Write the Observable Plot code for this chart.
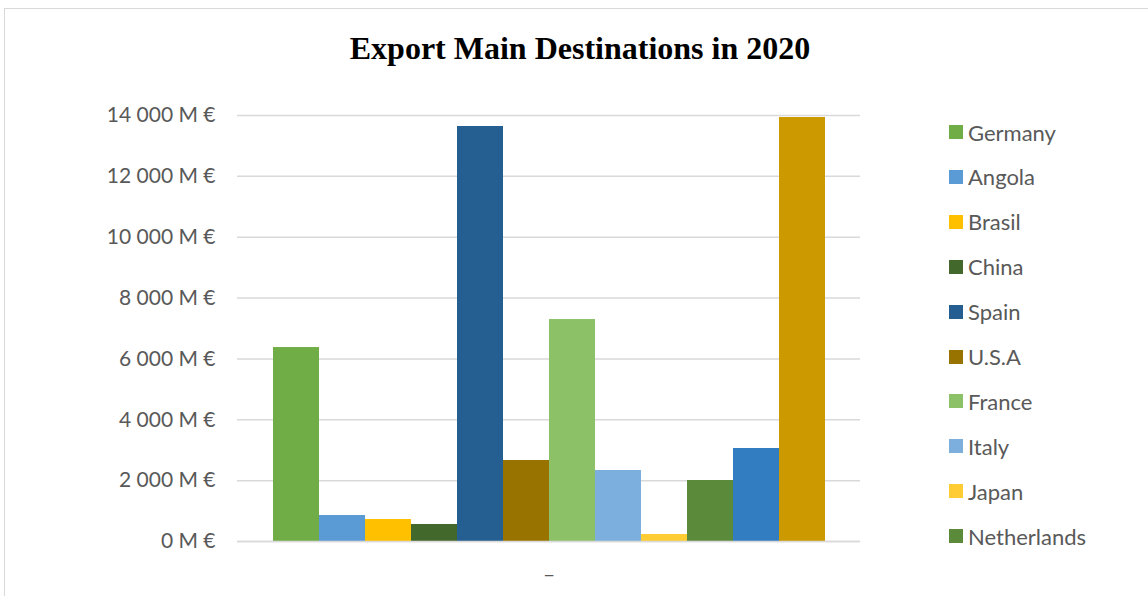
<!DOCTYPE html>
<html>
<head>
<meta charset="utf-8">
<script src="https://cdn.jsdelivr.net/npm/d3@7"></script>
<script src="https://cdn.jsdelivr.net/npm/@observablehq/plot@0.6"></script>
<style>
  html, body { margin: 0; padding: 0; background: #fff; overflow: hidden; }
  #wrap { position: relative; width: 1148px; height: 596px; }
  #frame { position: absolute; left: 4px; top: 8px; width: 1400px; height: 800px; border: 1px solid #d9d9d9; box-sizing: border-box; }
  #title { position: absolute; left: 0; top: 0; width: 1160px; height: 90px; text-align: center;
           font-family: "Liberation Serif", "Times New Roman", serif; font-weight: bold; font-size: 32px;
           line-height: 32px; padding-top: 32px; box-sizing: border-box; color: #000; }
  #chart { position: absolute; left: 0; top: 90px; }
  #legend { position: absolute; left: 949px; top: 0; font-family: Lato, sans-serif; font-size: 22px; color: #595959; }
  .item { position: absolute; left: 0; height: 20px; white-space: nowrap; display: flex; align-items: center; }
  .sw { width: 14px; height: 14px; margin-right: 5px; flex: none; }
</style>
</head>
<body>
<div id="wrap">
  <div id="frame"></div>
  <div id="title">Export Main Destinations in 2020</div>
  <div id="chart"></div>
  <div id="legend"></div>
</div>
<script>
// Categories (the last two are cut from the legend in the reference)
const countries = ["Germany", "Angola", "Brasil", "China", "Spain", "U.S.A", "France", "Italy", "Japan", "Netherlands", "United Kingdom", "Others"];
// Export values, million €
const values = [6375, 854, 723, 559, 13638, 2662, 7295, 2333, 230, 2005, 3056, 13934];
// Series colours
const colors = ["#70AD47", "#5B9BD5", "#FFC000", "#43682B", "#255E91", "#997300", "#8CC168", "#7CAFDD", "#FFCD33", "#5B8B3A", "#327DC2", "#CC9A00"];
// Y ticks
const yTicks = [0, 2000, 4000, 6000, 8000, 10000, 12000, 14000];
// Legend entries shown
const legendCount = 10;

const data = countries.map((c, i) => ({country: c, value: values[i]}));
const fmt = d => d3.format(",")(d).replace(/,/g, " ") + " M €";

const chart = Plot.plot({
  width: 1148,
  height: 506,
  marginTop: 25,
  marginBottom: 55,
  marginLeft: 237,
  marginRight: 288,
  style: {fontFamily: "Lato, sans-serif", fontSize: "21px", background: "transparent", overflow: "visible"},
  x: {domain: countries, paddingInner: 0, paddingOuter: 0.72, axis: null, label: null},
  y: {domain: [0, 14000], axis: null, label: null},
  color: {domain: countries, range: colors},
  marks: [
    Plot.ruleY(yTicks, {stroke: "#d9d9d9", strokeWidth: 1.5}),
    Plot.barY(data, {x: "country", y: "value", fill: "country"}),
    Plot.ruleY([0], {stroke: "#d9d9d9", strokeWidth: 1.5}),
    Plot.axisY(yTicks, {tickSize: 0, tickPadding: 22, tickFormat: fmt, color: "#595959", fontSize: 21, label: null}),
    Plot.text(["–"], {frameAnchor: "bottom", dy: 40, fill: "#595959", fontSize: 21})
  ]
});
document.getElementById("chart").appendChild(chart);

const legend = document.getElementById("legend");
countries.slice(0, legendCount).forEach((c, i) => {
  const it = document.createElement("div");
  it.className = "item";
  it.style.top = (132 - 10 + i * 44.9) + "px";
  const sw = document.createElement("span");
  sw.className = "sw";
  sw.style.background = colors[i];
  const t = document.createElement("span");
  t.textContent = c;
  it.appendChild(sw);
  it.appendChild(t);
  legend.appendChild(it);
});
</script>
</body>
</html>
